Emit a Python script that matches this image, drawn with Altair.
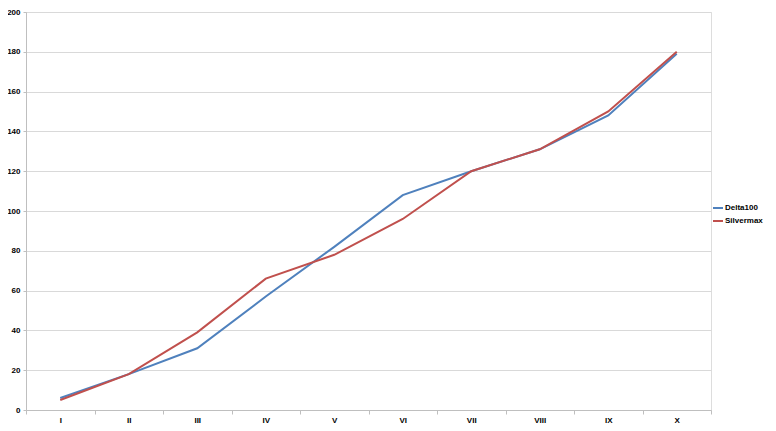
import altair as alt
import pandas as pd

categories = ["I", "II", "III", "IV", "V", "VI", "VII", "VIII", "IX", "X"]
delta100 = [6, 18, 31, 57, 82, 108, 120, 131, 148, 179]
silvermax = [5, 18, 39, 66, 78, 96, 120, 131, 150, 180]
series_names = ["Delta100", "Silvermax"]
colors = ["#4F81BD", "#C0504D"]

rows = []
for c, d, s in zip(categories, delta100, silvermax):
    rows.append({"cat": c, "series": series_names[0], "value": d})
    rows.append({"cat": c, "series": series_names[1], "value": s})
df = pd.DataFrame(rows)

font = "Liberation Sans"

chart = alt.Chart(df).mark_line(strokeWidth=2).encode(
    x=alt.X("cat:N", sort=categories, title=None,
            scale=alt.Scale(paddingInner=0, paddingOuter=0),
            axis=alt.Axis(labelAngle=0, labelFont=font, labelFontSize=8, labelFontWeight="bold",
                          labelColor="#000000", tickBand="extent", tickSize=4, tickColor="#bfbfbf",
                          domainColor="#bfbfbf", labelPadding=2, grid=False)),
    y=alt.Y("value:Q", title=None,
            scale=alt.Scale(domain=[0, 200], nice=False),
            axis=alt.Axis(values=list(range(0, 201, 20)), labelFont=font, labelFontSize=8,
                          labelFontWeight="bold", labelColor="#000000", tickSize=3,
                          tickColor="#bfbfbf", domainColor="#bfbfbf", labelPadding=3,
                          gridColor="#d9d9d9", gridWidth=1)),
    color=alt.Color("series:N", scale=alt.Scale(domain=series_names, range=colors),
                    legend=alt.Legend(title=None, orient="none", legendX=686, legendY=190,
                                      symbolType="stroke", symbolSize=100, symbolStrokeWidth=2,
                                      labelFont=font, labelFontSize=8, labelFontWeight="bold",
                                      labelColor="#000000", labelOffset=1, rowPadding=3,
                                      padding=0)),
).properties(
    width=685, height=398,
    autosize=alt.AutoSizeParams(type="none"),
    padding={"left": 18, "top": 4, "right": 56, "bottom": 18},
).configure_view(stroke=None).configure(background="#ffffff")

chart.save("out.html", embed_options={"renderer": "svg", "actions": False})
